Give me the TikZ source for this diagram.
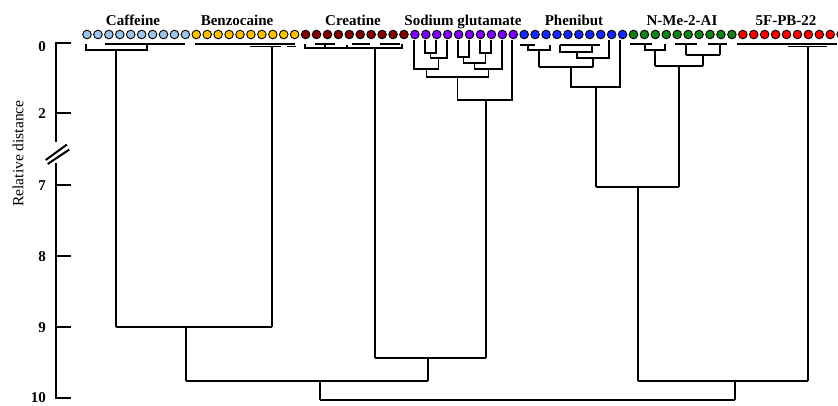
\documentclass[tikz,border=0pt]{standalone}
\usepackage{fontspec}
\setmainfont{Liberation Serif}
\definecolor{cCaf}{RGB}{157,195,230}
\definecolor{cBen}{RGB}{255,192,0}
\definecolor{cCre}{RGB}{128,0,0}
\definecolor{cSod}{RGB}{128,0,255}
\definecolor{cPhe}{RGB}{20,40,255}
\definecolor{cNme}{RGB}{20,130,20}
\definecolor{cFpb}{RGB}{255,0,0}
\begin{document}
\begin{tikzpicture}[x=1pt,y=-1pt,
  dendro/.style={line width=1.4pt},
  axisline/.style={line width=2.4pt},
  leaf/.style={circle,draw=black,line width=0.9pt,minimum size=8.6pt,inner sep=0pt},
  grouplabel/.style={font=\bfseries\fontsize{15}{15}\selectfont,anchor=base,inner sep=0pt},
  ticklabel/.style={font=\bfseries\fontsize{15}{15}\selectfont,anchor=east,inner sep=0pt},
  axistitle/.style={font=\fontsize{15.5}{15.5}\selectfont,rotate=90,inner sep=0pt}]
\useasboundingbox (0,0) rectangle (838,405);
% leaves
\foreach \col [count=\g from 0] in {cCaf,cBen,cCre,cSod,cPhe,cNme,cFpb}{
  \foreach \k in {0,...,9}{
    \pgfmathsetmacro{\xx}{87+10.93*(10*\g+\k)}
    \node[leaf,fill=\col] (c\g\k) at (\xx,34.5) {};
  }
}
% group labels
\node[grouplabel] (lCaf) at (133,25) {Caffeine};
\node[grouplabel] (lBen) at (237,25) {Benzocaine};
\node[grouplabel] (lCre) at (353,25) {Creatine};
\node[grouplabel] (lSod) at (463,25) {Sodium glutamate};
\node[grouplabel] (lPhe) at (574,25) {Phenibut};
\node[grouplabel] (lNme) at (682,25) {N-Me-2-AI};
\node[grouplabel] (lFpb) at (786,25) {5F-PB-22};
% axis
\draw[axisline] (71,43) -- (56,43) -- (56,142);
\draw[axisline] (56,163) -- (56,398) -- (71,398);
\foreach \yy in {113,185,256,327} \draw[axisline] (56,\yy) -- (71,\yy);
\draw[line width=2pt] (45.7,160) -- (67,144.5);
\draw[line width=2pt] (47.7,164) -- (69.3,149.5);
\node[ticklabel] (t0) at (46,47) {0};
\node[ticklabel] (t2) at (46,114) {2};
\node[ticklabel] (t7) at (46,186) {7};
\node[ticklabel] (t8) at (46,257) {8};
\node[ticklabel] (t9) at (46,328) {9};
\node[ticklabel] (t10) at (46,397.5) {10};
\node[axistitle] (title) at (18,153.5) {Relative distance};
% Caffeine
\draw[dendro] (105,44) -- (185,44);
\draw[dendro] (86,44) -- (86,50) -- (147,50) -- (147,44);
\draw[dendro] (116,50) -- (116,327);
% Benzocaine
\draw[dendro] (195,44) -- (295,44);
\draw[dendro] (250,46.5) -- (281,46.5);
\draw[dendro] (287,46.5) -- (296,46.5);
\draw[dendro] (272,46) -- (272,327);
\draw[dendro] (116,327) -- (272,327);
\draw[dendro] (186,327) -- (186,381);
% Creatine
\draw[dendro] (315,44) -- (335,44);
\draw[dendro] (325,44) -- (325,48);
\draw[dendro] (352,44) -- (370,44);
\draw[dendro] (380,44) -- (400,44);
\draw[dendro] (347,45) -- (347,48);
\draw[dendro] (305,44) -- (305,48) -- (402,48) -- (402,44);
\draw[dendro] (375,48) -- (375,358);
% Sodium glutamate
\draw[dendro] (425,40) -- (425,53) -- (436,53) -- (436,40);
\draw[dendro] (430.5,53) -- (430.5,58) -- (447,58) -- (447,40);
\draw[dendro] (414,40) -- (414,69) -- (438.75,69) -- (438.75,58);
\draw[dendro] (458,40) -- (458,57) -- (469,57) -- (469,40);
\draw[dendro] (480,40) -- (480,53) -- (491,53) -- (491,40);
\draw[dendro] (463.5,57) -- (463.5,63) -- (485.5,63) -- (485.5,53);
\draw[dendro] (474.5,63) -- (474.5,69) -- (502,69) -- (502,40);
\draw[dendro] (426.4,69) -- (426.4,77) -- (488.25,77) -- (488.25,69);
\draw[dendro] (457.3,77) -- (457.3,100) -- (512,100) -- (512,40);
\draw[dendro] (486,100) -- (486,358);
\draw[dendro] (375,358) -- (486,358);
\draw[dendro] (428,358) -- (428,381);
\draw[dendro] (186,381) -- (428,381);
\draw[dendro] (320,381) -- (320,400);
% Phenibut
\draw[dendro] (520,45) -- (535,45);
\draw[dendro] (528,45) -- (528,50) -- (550,50) -- (550,45);
\draw[dendro] (539,50) -- (539,67);
\draw[dendro] (560,45) -- (600,45);
\draw[dendro] (560,45) -- (560,52) -- (592,52) -- (592,45);
\draw[dendro] (577,52) -- (577,58) -- (609,58) -- (609,40);
\draw[dendro] (593,58) -- (593,67);
\draw[dendro] (539,67) -- (593,67);
\draw[dendro] (571,67) -- (571,87) -- (620,87) -- (620,40);
\draw[dendro] (596,87) -- (596,187);
% N-Me-2-AI
\draw[dendro] (630,44) -- (652,44);
\draw[dendro] (645,44) -- (645,50) -- (665,50) -- (665,44);
\draw[dendro] (655,50) -- (655,66);
\draw[dendro] (675,44) -- (697,44);
\draw[dendro] (686,44) -- (686,55);
\draw[dendro] (708,44) -- (727,44);
\draw[dendro] (720,44) -- (720,55);
\draw[dendro] (686,55) -- (720,55);
\draw[dendro] (703,55) -- (703,66);
\draw[dendro] (655,66) -- (703,66);
\draw[dendro] (679,66) -- (679,187);
\draw[dendro] (596,187) -- (679,187);
\draw[dendro] (638,187) -- (638,381);
% 5F-PB-22
\draw[dendro] (737,44) -- (837,44);
\draw[dendro] (788,46.5) -- (827,46.5);
\draw[dendro] (808,46) -- (808,381);
\draw[dendro] (638,381) -- (808,381);
\draw[dendro] (735,381) -- (735,400);
\draw[dendro] (320,400) -- (735,400);
\end{tikzpicture}
\end{document}
